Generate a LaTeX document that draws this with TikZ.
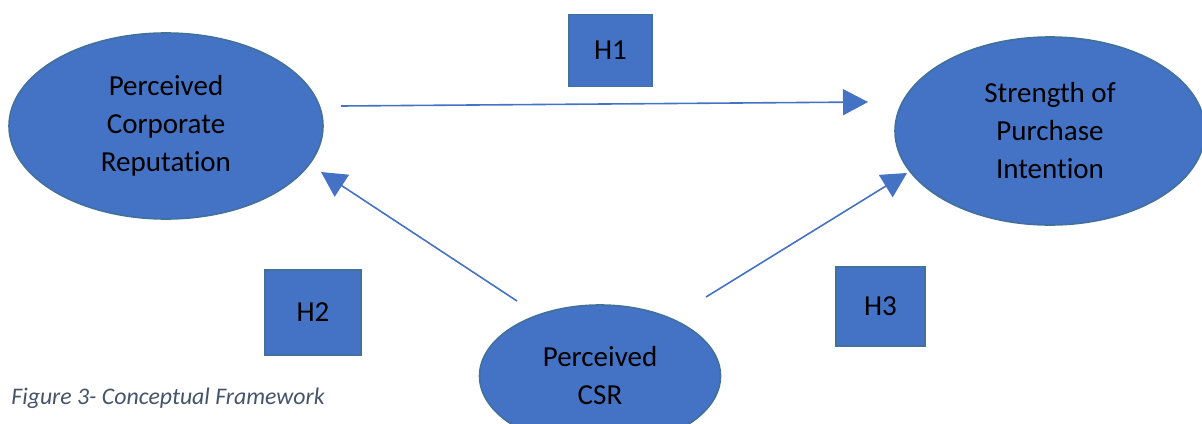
\documentclass[tikz,border=0pt]{standalone}
\usepackage{fontspec}
\setmainfont{Carlito}[Ligatures=NoCommon]
\usetikzlibrary{arrows.meta,shapes.geometric}
\definecolor{officeblue}{HTML}{4472C4}
\definecolor{officeline}{HTML}{41719C}
\definecolor{captiongray}{HTML}{44546A}

\begin{document}
\begin{tikzpicture}[
  x=0.5pt, y=-0.5pt,
  every node/.style={font=\fontsize{14.5}{19}\selectfont, text=black},
  construct/.style={ellipse, draw=officeline, line width=0.8pt, fill=officeblue,
                    align=center, inner sep=0pt},
  hypbox/.style={draw=officeline, line width=0.9pt, fill=officeblue,
                 inner sep=0pt},
  link/.style={officeblue, line width=0.8pt,
               -{Triangle[length=12.5pt, width=13pt]}}
]
  \clip (0,0) rectangle (1202,423);
  \useasboundingbox (0,0) rectangle (1202,423);

  % --- Constructs ---
  \node[construct, minimum width=157pt, minimum height=93pt] (reputation) at (166,126)
    {Perceived\\Corporate\\Reputation};
  \node[construct, minimum width=155pt, minimum height=94pt] (intention) at (1050,131)
    {Strength of\\Purchase\\Intention};
  \node[construct, minimum width=120.5pt, minimum height=71pt] (csr) at (600,376)
    {Perceived\\CSR};

  % --- Hypothesis boxes ---
  \node[hypbox, minimum width=41.5pt, minimum height=36pt] (h1) at (610.5,50.5) {H1};
  \node[hypbox, minimum width=48pt, minimum height=42.5pt] (h2) at (313,312.5) {H2};
  \node[hypbox, minimum width=44.5pt, minimum height=39.5pt] (h3) at (880.5,306.5) {H3};

  % --- Arrow ends ---
  \coordinate (h1start) at (341,106);
  \coordinate (h1end)   at (868,102);
  \coordinate (h2start) at (517,301);
  \coordinate (h2end)   at (321,172);
  \coordinate (h3start) at (706,297);
  \coordinate (h3end)   at (907,173);

  % --- Paths ---
  \draw[link] (h1start) -- (h1end);
  \draw[link] (h2start) -- (h2end);
  \draw[link] (h3start) -- (h3end);

  % --- Caption ---
  \node[anchor=west, font=\fontsize{11.9}{14}\selectfont\itshape, text=captiongray,
        inner sep=0pt] (caption) at (11,398) {Figure 3- Conceptual Framework};
\end{tikzpicture}
\end{document}
